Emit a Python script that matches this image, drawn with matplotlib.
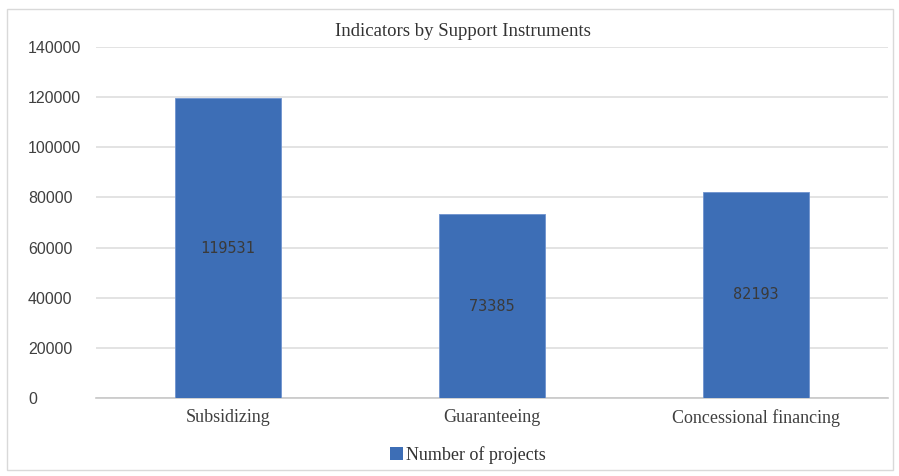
import matplotlib
matplotlib.use("Agg")
import matplotlib.pyplot as plt
from matplotlib.patches import Rectangle, Patch

categories = ["Subsidizing", "Guaranteeing", "Concessional financing"]
values = [119531, 73385, 82193]
yticks = [0, 20000, 40000, 60000, 80000, 100000, 120000, 140000]
title = "Indicators by Support Instruments"
series_name = "Number of projects"

bar_color = "#3d6eb6"
W, H = 899, 476
fig = plt.figure(figsize=(W / 100, H / 100), dpi=100)
fig.patch.set_facecolor("white")

# outer frame
fig.add_artist(Rectangle((7 / W, 1 - 470 / H), (893 - 7) / W, (470 - 9) / H,
                         transform=fig.transFigure, fill=False,
                         edgecolor="#d9d9d9", linewidth=1.0))

ax = fig.add_axes([96 / W, 1 - 398 / H, (888 - 96) / W, (398 - 47) / H])
x = list(range(len(categories)))
bars = ax.bar(x, values, width=0.4, color=bar_color, edgecolor="#6f93cf",
              linewidth=0.6, zorder=3, label=series_name)
ax.set_xlim(-0.5, len(categories) - 0.5)
ax.set_ylim(0, 140000)
ax.set_yticks(yticks)
ax.set_yticklabels([str(v) for v in yticks], fontsize=11.5, color="#404040",
                   family="Liberation Sans")
for lab in ax.get_yticklabels():
    lab.set_ha("left")
ax.tick_params(axis="y", length=0, pad=49)
ax.set_xticks(x)
ax.set_xticklabels(categories, fontsize=13, family="Liberation Serif",
                   color="#404040")
ax.tick_params(axis="x", length=0, pad=8)
ax.grid(axis="y", color="#dedede", linewidth=1.2, zorder=0)
for s in ["left", "right", "top"]:
    ax.spines[s].set_visible(False)
ax.spines["bottom"].set_color("#c8c8c8")
ax.spines["bottom"].set_linewidth(1.2)

for b, v in zip(bars, values):
    ax.text(b.get_x() + b.get_width() / 2, v / 2, str(v), ha="center",
            va="center", fontsize=11, color="#3a3a3a",
            family="DejaVu Sans Mono", zorder=4)

fig.text(463 / W, 1 - 31 / H, title, ha="center", va="center",
         fontsize=13.5, family="Liberation Serif", color="#333333")

fig.legend(handles=[Patch(facecolor=bar_color, label=series_name)],
           loc="center", bbox_to_anchor=(468 / W, 1 - 455 / H), frameon=False,
           prop={"family": "Liberation Serif", "size": 13},
           handlelength=0.7, handleheight=0.7, handletextpad=0.2,
           labelcolor="#333333")

fig.savefig("out.png", dpi=100, facecolor="white")
